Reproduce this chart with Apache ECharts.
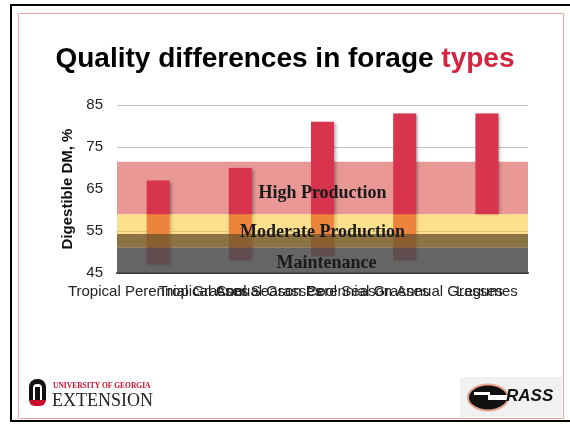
<!DOCTYPE html>
<html>
<head>
<meta charset="utf-8">
<script src="https://cdn.jsdelivr.net/npm/echarts@6/dist/echarts.min.js"></script>
<style>
  html, body { margin: 0; padding: 0; background: #fff; }
  #chart { width: 570px; height: 426px; }
</style>
</head>
<body>
<div id="chart"></div>
<script>
// forage types and digestible DM range (%)
const categories = [
  "Tropical Perennial Grasses",
  "Tropical Annual Grasses",
  "Cool Season Perennial Grasses",
  "Cool Season Annual Grasses",
  "Legumes",
];
const lowValues = [47, 48, 49, 48, 59];
const highValues = [67, 70, 81, 83, 83];
const yTicks = [45, 55, 65, 75, 85];

// production zones
const highZone = [59, 71.5];
const moderateZone = [54.3, 59];
const overlapZone = [51, 54.3];
const maintenanceZone = [45, 51];

const myChart = echarts.init(document.getElementById("chart"));

const spans = highValues.map((v, i) => v - lowValues[i]);

const zoneLabel = {
  show: true,
  position: "inside",
  fontFamily: "Liberation Serif",
  fontWeight: "bold",
  fontSize: 18,
  color: "#1a1a1a",
};

const option = {
  backgroundColor: "#fff",
  animation: false,
  title: {
    left: "center",
    top: 40,
    text: "{a|Quality differences in forage }{b|types}",
    textStyle: {
      rich: {
        a: { fontFamily: "Liberation Sans", fontWeight: "bold", fontSize: 28, color: "#000" },
        b: { fontFamily: "Liberation Sans", fontWeight: "bold", fontSize: 28, color: "#d4243f" },
      },
    },
  },
  grid: {
    left: 117,
    right: 42,
    top: 105,
    bottom: 153,
  },
  xAxis: {
    type: "category",
    data: categories,
    axisTick: { show: false },
    axisLine: { lineStyle: { color: "#3a3a3a", width: 2 } },
    axisLabel: {
      interval: 0,
      margin: 11,
      fontFamily: "Liberation Sans",
      fontSize: 15,
      color: "#222",
    },
  },
  yAxis: {
    type: "value",
    min: yTicks[0],
    max: yTicks[yTicks.length - 1],
    interval: 10,
    name: "Digestible DM, %",
    nameLocation: "middle",
    nameGap: 42,
    nameTextStyle: {
      fontFamily: "Liberation Sans",
      fontWeight: "bold",
      fontSize: 15,
      color: "#111",
    },
    axisLine: { show: false },
    axisTick: { show: false },
    axisLabel: {
      margin: 14,
      fontFamily: "Liberation Sans",
      fontSize: 15,
      color: "#222",
    },
    splitLine: { lineStyle: { color: "#c4c4c4", width: 1 } },
  },
  series: [
    {
      // invisible base of the floating bars, carries the high production fill
      type: "bar",
      stack: "range",
      data: lowValues,
      barWidth: 23,
      itemStyle: { color: "transparent" },
      silent: true,
      markArea: {
        z: 1,
        silent: true,
        itemStyle: { color: "#e99896" },
        data: [[{ yAxis: highZone[0] }, { yAxis: highZone[1] }]],
      },
    },
    {
      type: "bar",
      stack: "range",
      data: spans,
      barWidth: 23,
      itemStyle: {
        color: "#d9344d",
        shadowColor: "rgba(0,0,0,0.35)",
        shadowBlur: 3,
        shadowOffsetX: 2,
        shadowOffsetY: 1,
      },
      markArea: {
        z: 3,
        silent: true,
        label: zoneLabel,
        data: [
          [
            {
              name: "High Production",
              yAxis: highZone[0],
              itemStyle: { color: "rgba(0,0,0,0)" },
              label: { offset: [0, 5] },
            },
            { yAxis: highZone[1] },
          ],
          [
            { name: "", yAxis: overlapZone[0], itemStyle: { color: "rgba(127,100,47,0.9)" } },
            { yAxis: overlapZone[1] },
          ],
          [
            {
              name: "Moderate Production",
              yAxis: moderateZone[0],
              itemStyle: { color: "rgba(251,198,47,0.55)" },
              label: { offset: [0, 8] },
            },
            { yAxis: moderateZone[1] },
          ],
          [
            {
              name: "Maintenance",
              yAxis: maintenanceZone[0],
              itemStyle: { color: "rgba(80,80,80,0.88)" },
              label: { offset: [4, 3] },
            },
            { yAxis: maintenanceZone[1] },
          ],
        ],
      },
    },
  ],
  graphic: [
    // slide frame
    {
      type: "rect",
      shape: { x: 11, y: 5, width: 570, height: 416 },
      style: { fill: "none", stroke: "#000", lineWidth: 2 },
    },
    {
      type: "rect",
      shape: { x: 18.5, y: 13.5, width: 545, height: 405 },
      style: { fill: "none", stroke: "#e8a6a6", lineWidth: 1 },
    },
    // UGA extension logo
    {
      type: "rect",
      shape: { x: 29, y: 379, width: 17, height: 21, r: [8, 8, 0, 0] },
      style: { fill: "#111" },
    },
    {
      type: "rect",
      shape: { x: 33, y: 384, width: 9, height: 16, r: [4, 4, 0, 0] },
      style: { fill: "#fff" },
    },
    {
      type: "rect",
      shape: { x: 35, y: 387, width: 5, height: 13 },
      style: { fill: "#111" },
    },
    {
      type: "rect",
      shape: { x: 29, y: 400, width: 17, height: 6, r: [0, 0, 6, 6] },
      style: { fill: "#c8102e" },
    },
    {
      type: "text",
      left: 53,
      top: 382,
      style: {
        text: "UNIVERSITY OF GEORGIA",
        font: "bold 7.5px 'Liberation Serif'",
        fill: "#c8102e",
      },
    },
    {
      type: "text",
      left: 52,
      top: 392,
      style: {
        text: "EXTENSION",
        font: "18px 'Liberation Serif'",
        fill: "#222",
      },
    },
    // GRASS logo
    {
      type: "rect",
      shape: { x: 460, y: 377, width: 102, height: 40 },
      style: { fill: "#f1f1f1" },
    },
    {
      type: "ellipse",
      shape: { cx: 488, cy: 397.5, rx: 20, ry: 13 },
      style: { fill: "#111", stroke: "#e3a48e", lineWidth: 2 },
    },
    {
      type: "rect",
      shape: { x: 488, y: 395, width: 21, height: 5 },
      style: { fill: "#fff" },
    },
    {
      type: "rect",
      shape: { x: 474, y: 392, width: 16, height: 3 },
      style: { fill: "#fff" },
    },
    {
      type: "text",
      left: 506,
      top: 388,
      style: {
        text: "RASS",
        font: "italic bold 17px 'Liberation Sans'",
        fill: "#111",
      },
    },
  ],
};

myChart.setOption(option);
</script>
</body>
</html>
